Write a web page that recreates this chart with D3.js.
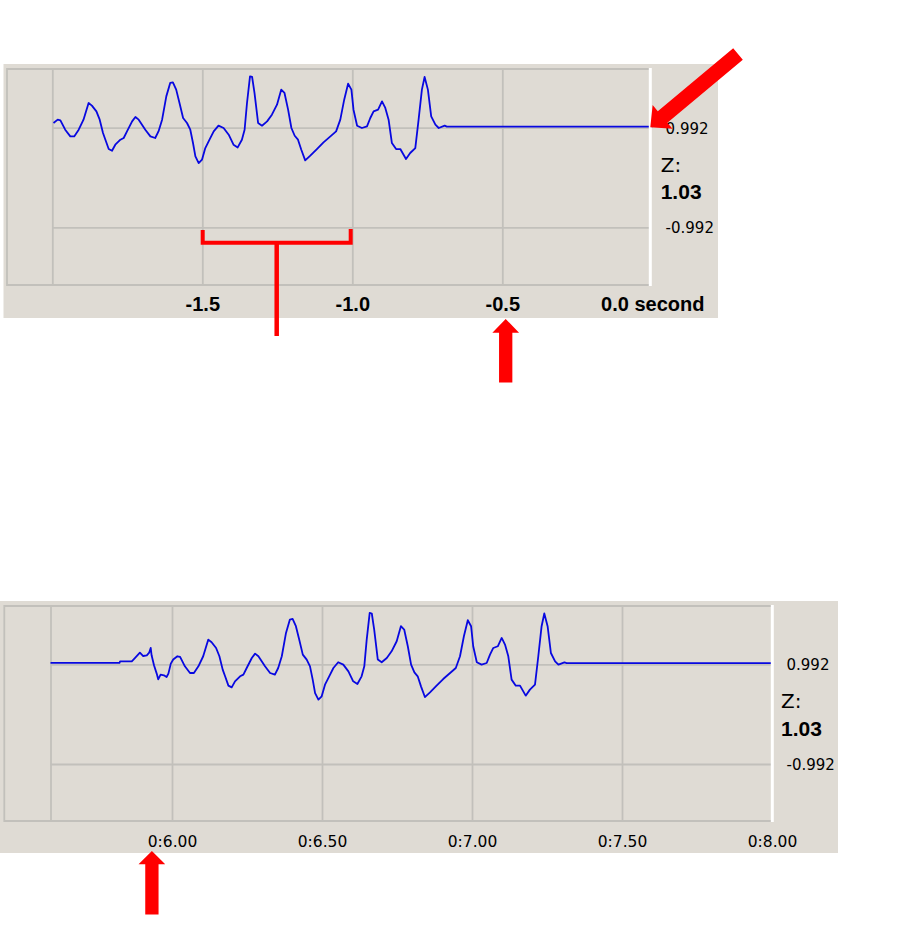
<!DOCTYPE html>
<html><head><meta charset="utf-8">
<script src="https://cdn.jsdelivr.net/npm/d3@7"></script>
<style>body{margin:0;background:#fff}svg{display:block}</style>
</head><body>
<svg id="c" width="899" height="948"></svg>
<script>
// ---- data (time in seconds, amplitude in the chart's units) ----
const waveform = [
[5.595,1.02],[5.825,1.02],[5.827,1.05],[5.866,1.05],[5.877,1.12],[5.893,1.225],[5.904,1.157],[5.916,1.171],[5.924,1.225],[5.929,1.317],[5.932,1.171],[5.940,0.972],[5.949,0.807],[5.954,0.693],[5.962,0.787],[5.973,0.773],[5.982,0.739],[5.988,0.807],[5.996,1.006],
[6.004,1.086],[6.018,1.152],[6.027,1.138],[6.043,0.952],[6.060,0.819],[6.073,0.819],[6.088,0.952],[6.104,1.152],[6.121,1.484],[6.132,1.431],[6.147,1.317],[6.158,1.152],[6.169,0.886],[6.177,0.753],[6.188,0.567],[6.199,0.533],[6.210,0.653],[6.227,0.753],[6.238,0.787],[6.249,0.918],[6.266,1.118],[6.277,1.205],[6.288,1.152],[6.299,1.052],[6.310,0.952],[6.327,0.819],[6.343,0.787],[6.354,0.918],[6.366,1.152],[6.380,1.616],[6.393,1.883],[6.402,1.895],[6.413,1.750],[6.424,1.484],[6.436,1.185],[6.449,1.086],[6.460,0.952],[6.469,0.687],[6.477,0.420],[6.488,0.288],[6.499,0.354],[6.510,0.587],[6.524,0.753],[6.538,0.918],[6.554,1.032],[6.571,0.986],[6.588,0.852],[6.604,0.653],[6.618,0.599],[6.632,0.753],[6.641,0.952],[6.649,1.484],[6.659,2.015],[6.666,2.003],[6.674,1.684],[6.686,1.086],[6.699,1.032],[6.716,1.118],[6.732,1.251],[6.749,1.451],[6.763,1.750],[6.774,1.684],[6.786,1.351],[6.797,0.986],[6.808,0.832],[6.819,0.753],[6.830,0.553],[6.843,0.340],[6.860,0.434],[6.882,0.567],[6.904,0.699],[6.927,0.819],[6.946,0.918],[6.960,1.152],[6.973,1.550],[6.986,1.869],[6.997,1.750],[7.004,1.351],[7.016,1.032],[7.032,0.986],[7.049,1.018],[7.060,1.185],[7.071,1.317],[7.086,1.351],[7.099,1.516],[7.110,1.385],[7.121,1.152],[7.132,0.687],[7.146,0.567],[7.160,0.567],[7.179,0.368],[7.193,0.488],[7.210,0.587],[7.221,1.152],[7.232,1.750],[7.241,2.003],[7.252,1.750],[7.263,1.217],[7.277,1.052],[7.288,0.986],[7.308,1.032],[7.315,1.015],[8.0,1.015]
];
const topWindowEnd = 8.0;               // top panel shows seconds before this time
const topTicks = [-1.5, -1.0, -0.5, 0.0];
const topTickLabels = ["-1.5", "-1.0", "-0.5", "0.0 second"];
const bottomTicks = [6.0, 6.5, 7.0, 7.5, 8.0];
const bottomTickLabels = ["0:6.00", "0:6.50", "0:7.00", "0:7.50", "0:8.00"];
const gridValues = [0.992, -0.992];
const gridLabels = ["0.992", "-0.992"];
const channelLabel = "Z:";
const channelScale = "1.03";

// ---- styles ----
const BG = "#dfdbd4", GRID = "#c2c0bb", LINE = "#0808e0", RED = "#ff0000";
const svg = d3.select("#c");

function drawPanel(p) {
  const g = svg.append("g");
  g.append("rect").attr("x", p.bg[0]).attr("y", p.bg[1]).attr("width", p.bg[2]).attr("height", p.bg[3]).attr("fill", BG);
  const x = d3.scaleLinear().domain(p.xDomain).range(p.xRange);
  const y = d3.scaleLinear().domain([-0.992, 0.992]).range(p.yRange);
  const [fx0, fy0, fx1, fy1] = p.frame;
  g.append("path").attr("d", `M${fx1},${fy0}H${fx0}V${fy1}H${fx1}`)
    .attr("fill", "none").attr("stroke", GRID).attr("stroke-width", 1.8);
  const vg = g.append("g").attr("transform", `translate(0,${fy1})`)
    .call(d3.axisBottom(x).tickValues([p.xDomain[0]].concat(p.gridTicks)).tickSize(-(fy1 - fy0)).tickFormat(""));
  vg.select(".domain").remove();
  vg.selectAll("line").attr("stroke", GRID).attr("stroke-width", 1.8);
  const x0 = x(p.xDomain[0]);
  const hg = g.append("g").attr("transform", `translate(${x0},0)`)
    .call(d3.axisLeft(y).tickValues(gridValues).tickSize(-(fx1 - x0)).tickFormat(""));
  hg.select(".domain").remove();
  hg.selectAll("line").attr("stroke", GRID).attr("stroke-width", 1.8);

  g.append("path").datum(p.data)
    .attr("d", d3.line().x(d => x(d[0])).y(d => y(d[1])))
    .attr("fill", "none").attr("stroke", LINE).attr("stroke-width", 1.8).attr("stroke-linejoin", "round");

  g.append("line").attr("x1", fx1).attr("x2", fx1).attr("y1", fy0 - 1).attr("y2", fy1 + 1)
    .attr("stroke", "#ffffff").attr("stroke-width", 3);

  const ta = g.append("g").attr("transform", `translate(0,${p.labelBaseline})`)
    .call(d3.axisBottom(x).tickValues(p.labelTicks).tickFormat((d, i) => p.labelText[i]).tickSize(0));
  ta.select(".domain").remove();
  ta.selectAll("text").attr("y", 0).attr("dy", 0).attr("fill", "#000").attr("text-anchor", "middle")
    .style("font", p.labelFont);

  g.selectAll("text.gl").data(gridValues).join("text").attr("class", "gl")
    .attr("x", fx1 + p.gridLabelDx).attr("y", d => y(d) + 5.8)
    .attr("fill", "#000").style("font", "15px 'DejaVu Sans'")
    .text((d, i) => gridLabels[i]);
  g.append("text").attr("x", fx1 + p.chanDx).attr("y", y(0.992) + 44)
    .attr("fill", "#000").style("font", "20px 'DejaVu Sans'").text(channelLabel);
  g.append("text").attr("x", fx1 + p.chanDx).attr("y", y(0.992) + 71.5)
    .attr("fill", "#000").style("font", "bold 21px 'Liberation Sans'").text(channelScale);
  return { x, y };
}

const topP = drawPanel({
  bg: [3.5, 64, 714.5, 254], frame: [7, 69, 650.3, 285],
  xDomain: [-2, 0], xRange: [52.3, 652.3], yRange: [227.3, 127.7],
  gridTicks: topTicks.slice(0, 3), labelTicks: topTicks, labelText: topTickLabels,
  labelBaseline: 311, labelFont: "bold 20px 'Liberation Sans'",
  gridLabelDx: 15.3, chanDx: 10.4,
  data: waveform.filter(d => d[0] >= topWindowEnd - 2).map(d => [d[0] - topWindowEnd, d[1]])
});

const botP = drawPanel({
  bg: [0, 601, 838, 252], frame: [4.3, 606, 772.3, 821],
  xDomain: [5.595, 8.0], xRange: [50.5, 772], yRange: [764, 664.3],
  gridTicks: bottomTicks.slice(0, 4), labelTicks: bottomTicks, labelText: bottomTickLabels,
  labelBaseline: 847, labelFont: "15.5px 'DejaVu Sans'",
  gridLabelDx: 14.2, chanDx: 8.7,
  data: waveform
});

// ---- red annotations ----
function arrowPoints(tail, tip, shaftW, headW, headL) {
  const dx = tip[0] - tail[0], dy = tip[1] - tail[1], L = Math.hypot(dx, dy);
  const ux = dx / L, uy = dy / L, nx = -uy, ny = ux;
  const bx = tip[0] - ux * headL, by = tip[1] - uy * headL;
  return [
    [tail[0] + nx * shaftW / 2, tail[1] + ny * shaftW / 2],
    [bx + nx * shaftW / 2, by + ny * shaftW / 2],
    [bx + nx * headW / 2, by + ny * headW / 2],
    tip,
    [bx - nx * headW / 2, by - ny * headW / 2],
    [bx - nx * shaftW / 2, by - ny * shaftW / 2],
    [tail[0] - nx * shaftW / 2, tail[1] - ny * shaftW / 2]
  ];
}
const ann = svg.append("g");
const drawArrow = (pts) => ann.append("polygon").attr("points", pts.map(p => p.join(",")).join(" ")).attr("fill", RED);

// diagonal arrow pointing at the end of the top trace
drawArrow(arrowPoints([738, 54], [topP.x(0) - 2, topP.y(0.992) - 0.5], 15, 31, 16));
// up arrow under -0.5
drawArrow(arrowPoints([topP.x(-0.5) + 3.4, 382.5], [topP.x(-0.5) + 3.4, 319], 13.3, 26.7, 13.7));
// up arrow under the start of the bottom trace
drawArrow(arrowPoints([botP.x(5.933), 914.5], [botP.x(5.933), 851], 13.3, 26.7, 13.3));

// bracket spanning -1.5 .. -1.0
const bx1 = topP.x(-1.5) + 0.4, bx2 = topP.x(-1.0) - 1.6, by = 242.8;
ann.append("path").attr("d", `M${bx1},230V${by}H${bx2}V229`)
  .attr("fill", "none").attr("stroke", RED).attr("stroke-width", 4);
ann.append("line").attr("x1", (bx1 + bx2) / 2).attr("x2", (bx1 + bx2) / 2).attr("y1", by).attr("y2", 336)
  .attr("stroke", RED).attr("stroke-width", 4.5);
</script>
</body></html>
